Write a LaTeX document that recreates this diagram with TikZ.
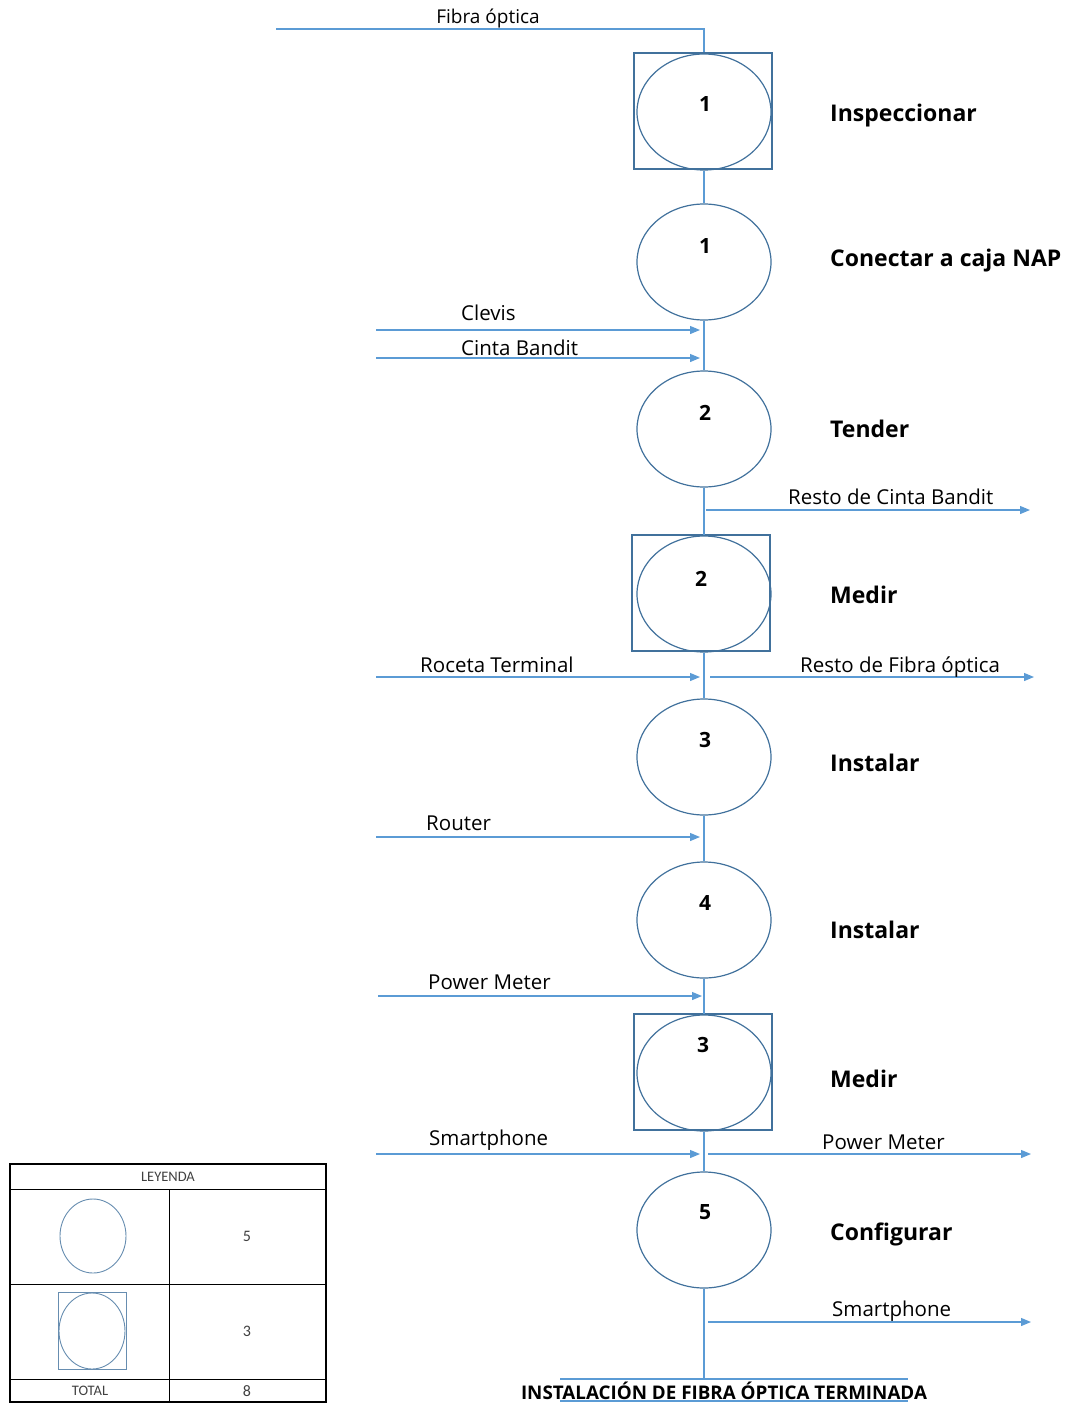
\documentclass[tikz,border=0pt]{standalone}
\usepackage{fontspec}
\setmainfont{Open Sans}
\newfontfamily\legendfont{Carlito}
\usetikzlibrary{shapes.geometric,arrows.meta}
\definecolor{flow}{HTML}{5B9BD5}
\definecolor{edge}{HTML}{41719C}
\begin{document}
\begin{tikzpicture}[x=1pt,y=-1pt,
  op/.style={ellipse, draw=edge, line width=1.2pt, minimum width=134pt, minimum height=116pt, inner sep=0pt},
  insp/.style={rectangle, draw=edge, line width=1.2pt, minimum width=138pt, minimum height=116pt, inner sep=0pt},
  num/.style={font=\fontsize{21}{21}\selectfont\bfseries, inner sep=0pt},
  stepname/.style={font=\fontsize{23}{23}\selectfont\bfseries, anchor=west, inner sep=0pt, yshift=-3pt},
  flowtext/.style={font=\fontsize{20.5}{20.5}\selectfont, anchor=west, inner sep=0pt, yshift=-1pt},
  link/.style={draw=flow, line width=1.2pt},
  inarrow/.style={link, -{Triangle[length=10pt,width=8pt]}},
  grid/.style={draw=black, line width=1pt},
  gridtext/.style={font=\legendfont\fontsize{14.5}{14.5}\selectfont, text=black!75, inner sep=0pt}
]
\useasboundingbox (0,0) rectangle (1067,1403);

% operation circles and inspection squares
\node[insp] (s1) at (703,111) {};
\node[op] (c1) at (704,112) {};
\node[op] (c2) at (704,262) {};
\node[op] (c3) at (704,429) {};
\node[insp] (s4) at (701,593) {};
\node[op] (c4) at (704,594) {};
\node[op] (c5) at (704,757) {};
\node[op] (c6) at (704,920) {};
\node[insp] (s7) at (703,1072) {};
\node[op] (c7) at (704,1073) {};
\node[op] (c8) at (704,1230) {};

% numbers inside the symbols
\node[num] (n1) at (705,104) {1};
\node[num] (n2) at (705,246) {1};
\node[num] (n3) at (705,413) {2};
\node[num] (n4) at (701,579) {2};
\node[num] (n5) at (705,740) {3};
\node[num] (n6) at (705,903) {4};
\node[num] (n7) at (703,1045) {3};
\node[num] (n8) at (705,1212) {5};

% step names
\node[stepname] (t1) at (830,113) {Inspeccionar};
\node[stepname] (t2) at (830,258) {Conectar a caja NAP};
\node[stepname] (t3) at (830,426) {Tender};
\node[stepname] (t4) at (830,592) {Medir};
\node[stepname] (t5) at (830,760) {Instalar};
\node[stepname] (t6) at (830,927) {Instalar};
\node[stepname] (t7) at (830,1076) {Medir};
\node[stepname] (t8) at (830,1231) {Configurar};

% incoming fibre
\coordinate (fstart) at (276,29);
\draw[link] (fstart) -- (704,29) -- (s1.north -| 704,0);
\node[font=\fontsize{19}{19}\selectfont, inner sep=0pt] (fl) at (488,19) {Fibra óptica};

% main flow line
\draw[link] (c1.south) -- (c2.north);
\draw[link] (c2.south) -- (c3.north);
\draw[link] (c3.south) -- (c4.north);
\draw[link] (c4.south) -- (c5.north);
\draw[link] (c5.south) -- (c6.north);
\draw[link] (c6.south) -- (c7.north);
\draw[link] (c7.south) -- (c8.north);
\coordinate (fin) at (704,1380);
\draw[link] (c8.south) -- (fin);

% materials entering
\coordinate (i1a) at (376,330);  \coordinate (i1b) at (700,330);
\coordinate (i2a) at (376,358);  \coordinate (i2b) at (700,358);
\coordinate (i3a) at (376,677);  \coordinate (i3b) at (700,677);
\coordinate (i4a) at (376,837);  \coordinate (i4b) at (700,837);
\coordinate (i5a) at (378,996);  \coordinate (i5b) at (702,996);
\coordinate (i6a) at (376,1154); \coordinate (i6b) at (700,1154);
\draw[inarrow] (i1a) -- (i1b);
\draw[inarrow] (i2a) -- (i2b);
\draw[inarrow] (i3a) -- (i3b);
\draw[inarrow] (i4a) -- (i4b);
\draw[inarrow] (i5a) -- (i5b);
\draw[inarrow] (i6a) -- (i6b);
\node[flowtext] (l1) at (461,312) {Clevis};
\node[flowtext] (l2) at (461,347) {Cinta Bandit};
\node[flowtext] (l3) at (420,664) {Roceta Terminal};
\node[flowtext] (l4) at (426,822) {Router};
\node[flowtext] (l5) at (428,981) {Power Meter};
\node[flowtext] (l6) at (429,1139) {Smartphone};

% materials leaving
\coordinate (o1a) at (706,510);  \coordinate (o1b) at (1030,510);
\coordinate (o2a) at (710,677);  \coordinate (o2b) at (1034,677);
\coordinate (o3a) at (708,1154); \coordinate (o3b) at (1031,1154);
\coordinate (o4a) at (708,1322); \coordinate (o4b) at (1031,1322);
\draw[inarrow] (o1a) -- (o1b);
\draw[inarrow] (o2a) -- (o2b);
\draw[inarrow] (o3a) -- (o3b);
\draw[inarrow] (o4a) -- (o4b);
\node[flowtext] (r1) at (788,496) {Resto de Cinta Bandit};
\node[flowtext] (r2) at (800,666) {Resto de Fibra óptica};
\node[flowtext] (r3) at (822,1141) {Power Meter};
\node[flowtext] (r4) at (832,1310) {Smartphone};

% final result
\coordinate (u1a) at (560,1379); \coordinate (u1b) at (908,1379);
\coordinate (u2a) at (560,1401); \coordinate (u2b) at (908,1401);
\draw[link] (u1a) -- (u1b);
\draw[link] (u2a) -- (u2b);
\node[font=\fontsize{18.8}{18.8}\selectfont\bfseries, inner sep=0pt] (done) at (724,1391) {INSTALACIÓN DE FIBRA ÓPTICA TERMINADA};

% legend table
\draw[grid, line width=1.6pt] (10,1164) rectangle (326,1402);
\draw[grid] (10,1189) -- (326,1189);
\draw[grid] (10,1284) -- (326,1284);
\draw[grid] (10,1379) -- (326,1379);
\draw[grid] (169,1189) -- (169,1402);
\node[gridtext] (lg) at (168,1177) {LEYENDA};
\node[ellipse, draw=edge!80, line width=0.9pt, minimum width=66pt, minimum height=74pt, inner sep=0pt] (lc1) at (93,1236) {};
\node[rectangle, draw=edge!80, line width=0.9pt, minimum width=68pt, minimum height=77pt, inner sep=0pt] (ls2) at (92,1331) {};
\node[ellipse, draw=edge!80, line width=0.9pt, minimum width=66pt, minimum height=76pt, inner sep=0pt] (lc2) at (92,1331) {};
\node[gridtext, font=\legendfont\fontsize{16}{16}\selectfont] (lv1) at (247,1236) {5};
\node[gridtext, font=\legendfont\fontsize{16}{16}\selectfont] (lv2) at (247,1331) {3};
\node[gridtext] (lt) at (90,1391) {TOTAL};
\node[gridtext, font=\legendfont\fontsize{16}{16}\selectfont] (lv3) at (247,1391) {8};
\end{tikzpicture}
\end{document}
